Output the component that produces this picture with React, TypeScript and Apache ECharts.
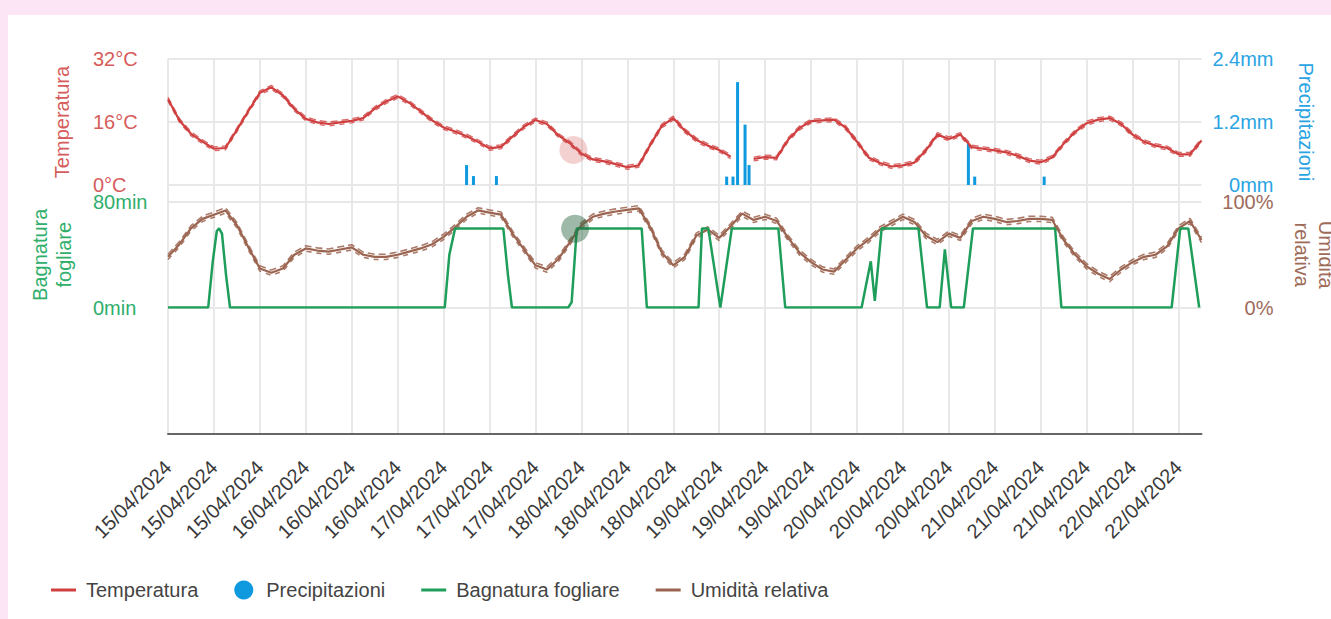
import { useEffect, useRef } from 'react';
import * as echarts from 'echarts';

// hours between two consecutive readings of temperature / humidity
const STEP_HOURS = 2;

// x-axis tick labels, one every 8 hours starting 15/04/2024 00:00
const tickLabels = [
  '15/04/2024', '15/04/2024', '15/04/2024',
  '16/04/2024', '16/04/2024', '16/04/2024',
  '17/04/2024', '17/04/2024', '17/04/2024',
  '18/04/2024', '18/04/2024', '18/04/2024',
  '19/04/2024', '19/04/2024', '19/04/2024',
  '20/04/2024', '20/04/2024', '20/04/2024',
  '21/04/2024', '21/04/2024', '21/04/2024',
  '22/04/2024', '22/04/2024',
];

// °C, every 2 hours
const temperature: (number | null)[] = [
  21.8, 16.4, 13.0, 11.0, 9.2, 9.4, 14.0, 18.8, 23.4, 24.8,
  22.8, 19.3, 16.8, 15.9, 15.5, 15.9, 16.3, 17.0, 19.4, 21.2,
  22.5, 20.9, 18.7, 16.4, 14.6, 13.6, 12.4, 11.0, 9.3, 9.7,
  12.3, 14.8, 16.5, 15.5, 12.6, 10.6, 8.0, 6.5, 6.0, 5.3,
  4.5, 5.0, 10.2, 15.0, 17.0, 13.8, 11.5, 10.0, 8.9, 7.2,
  null, 6.6, 7.1, 6.9, 11.5, 14.5, 16.2, 16.4, 16.6, 14.6,
  11.0, 7.0, 5.6, 4.7, 5.0, 5.7, 8.8, 12.8, 11.7, 12.8,
  9.6, 9.2, 8.8, 8.3, 7.4, 6.2, 5.8, 7.0, 10.5, 13.5,
  15.7, 16.6, 17.0, 15.5, 12.8, 11.0, 10.0, 9.4, 7.8, 7.8, 11.3,
];

// %, every 2 hours
const humidity = [
  48, 60, 75, 84, 88, 92, 78, 57, 37, 33,
  37, 50, 56, 54, 53, 55, 57, 50, 48, 48,
  50, 53, 56, 60, 67, 76, 86, 92, 90, 88,
  70, 55, 40, 36, 46, 62, 78, 86, 89, 91,
  92.5, 94, 76, 52, 40, 48, 68, 74, 66, 77,
  89, 83, 86, 82, 66, 52, 43, 36, 34, 45,
  56, 64, 74, 80, 86, 81, 68, 62, 70, 66,
  82, 86, 84, 81, 82, 84, 84, 83, 64, 50,
  39, 32, 27, 36, 43, 48, 50, 58, 75, 82, 64,
];

// leaf wetness (minutes) at the given hours from the start
const leafHours = [
  0, 7.0, 7.8, 8.5, 8.9, 9.4, 10.1, 10.8,
  48.2, 49.0, 50.0, 58.4, 59.2, 59.9,
  69.7, 70.3, 70.8, 71.2, 82.5, 83.4,
  92.4, 93.0, 94.1, 96.2, 98.2, 106.3, 107.5,
  120.8, 122.4, 123.1, 124.3, 130.7, 132.2,
  134.4, 135.3, 136.4, 138.6, 140.2, 154.5, 155.6,
  174.8, 176.3, 177.7, 179.6,
];
const leafMinutes = [
  0, 0, 35, 58, 60, 56, 25, 0,
  0, 40, 60, 60, 25, 0,
  0, 4, 35, 60, 60, 0,
  0, 60, 60, 0, 60, 60, 0,
  0, 35, 5, 60, 60, 0,
  0, 44, 0, 0, 60, 60, 0,
  0, 60, 60, 0,
];

// precipitation (mm) at the given hours from the start
const precipHours = [52.0, 53.2, 57.2, 97.3, 98.4, 99.2, 100.5, 101.2, 139.4, 140.5, 152.6];
const precipMm = [0.38, 0.17, 0.17, 0.16, 0.16, 1.96, 1.15, 0.38, 0.78, 0.16, 0.16];

const RED = '#cf3f3f';
const RED_TXT = '#d65c5c';
const BLUE = '#0f9ae0';
const BLUE_TXT = '#2aa4e3';
const GREEN = '#1e9e5a';
const GREEN_TXT = '#2fae6c';
const BROWN = '#9b6450';
const BROWN_TXT = '#9e6b5a';
const GRID_LINE = '#e8e8e8';
const FONT = '"Liberation Sans", Arial, sans-serif';
const LINE_ICON = 'path://M0,0H25V3H0Z';

export default function App() {
  const ref = useRef<HTMLDivElement>(null);

  useEffect(() => {
    if (!ref.current) return;
    const chart = echarts.init(ref.current, null, { renderer: 'svg' });

    const tempData = temperature.map((v, i) => [i * STEP_HOURS, v]);
    const humData = humidity.map((v, i) => [i * STEP_HOURS, v]);
    const leafData = leafHours.map((h, i) => [h, leafMinutes[i]]);
    const precipData = precipHours.map((h, i) => [h, precipMm[i]]);

    const gridBase = { left: 160, right: 129.5, outerBoundsMode: 'none', containLabel: false };
    const hiddenX = (gridIndex: number) => ({
      gridIndex, type: 'value', min: 0, max: 180, show: false,
    });
    const hiddenY = (gridIndex: number, min: number, max: number) => ({
      gridIndex, type: 'value', min, max, show: false,
    });

    const option: any = {
      animation: false,
      textStyle: { fontFamily: FONT },
      grid: [
        { ...gridBase, top: 44, height: 375 },
        { ...gridBase, top: 44, height: 126 },
        { ...gridBase, top: 187, height: 105.5 },
      ],
      legend: {
        left: 38,
        top: 560,
        itemWidth: 25,
        itemHeight: 19,
        itemGap: 36,
        textStyle: { fontSize: 20, color: '#444', padding: [0, 0, 0, 5] },
        data: [
          { name: 'Temperatura', icon: LINE_ICON },
          { name: 'Precipitazioni', icon: 'circle' },
          { name: 'Bagnatura fogliare', icon: LINE_ICON },
          { name: 'Umidità relativa', icon: LINE_ICON },
        ],
      },
      xAxis: [
        {
          gridIndex: 0,
          type: 'value',
          min: 0,
          max: 180,
          interval: 8,
          axisLine: { show: true, lineStyle: { color: '#666', width: 2 } },
          axisTick: { show: false },
          splitLine: { show: true, showMaxLine: false, lineStyle: { color: GRID_LINE, width: 2 } },
          axisLabel: {
            rotate: 45,
            margin: 30,
            fontSize: 20,
            color: '#3a3a3a',
            showMaxLabel: false,
            formatter: (v: number) => (v % 8 === 0 ? tickLabels[Math.round(v / 8)] ?? '' : ''),
          },
        },
        hiddenX(1),
        hiddenX(2),
      ],
      yAxis: [
        {
          gridIndex: 1,
          type: 'value',
          position: 'left',
          min: 0,
          max: 32,
          interval: 16,
          axisLine: { show: false },
          axisTick: { show: false },
          splitLine: { show: true, lineStyle: { color: GRID_LINE, width: 2 } },
          axisLabel: {
            formatter: '{value}°C', align: 'left', margin: 75, fontSize: 20, lineHeight: 16, color: RED_TXT,
          },
          name: 'Temperatura',
          nameLocation: 'middle',
          nameGap: 96,
          nameTextStyle: { color: RED_TXT, fontSize: 20 },
        },
        {
          gridIndex: 1,
          type: 'value',
          position: 'right',
          min: 0,
          max: 2.4,
          interval: 1.2,
          axisLine: { show: false },
          axisTick: { show: false },
          splitLine: { show: false },
          axisLabel: {
            formatter: (v: number) => `${v}mm`,
            align: 'right', margin: 72, fontSize: 20, lineHeight: 16, color: BLUE_TXT,
          },
          name: 'Precipitazioni',
          nameLocation: 'middle',
          nameRotate: -90,
          nameGap: 94,
          nameTextStyle: { color: BLUE_TXT, fontSize: 20 },
        },
        hiddenY(1, -0.5, 31.5),
        hiddenY(1, 0.5, 32.5),
        {
          gridIndex: 2,
          type: 'value',
          position: 'left',
          min: 0,
          max: 80,
          interval: 80,
          axisLine: { show: false },
          axisTick: { show: false },
          splitLine: { show: true, lineStyle: { color: GRID_LINE, width: 2 } },
          axisLabel: {
            formatter: '{value}min', align: 'left', margin: 75, fontSize: 20, lineHeight: 16, color: GREEN_TXT,
          },
          name: 'Bagnatura\nfogliare',
          nameLocation: 'middle',
          nameGap: 92,
          nameTextStyle: { color: GREEN_TXT, fontSize: 20, lineHeight: 24 },
        },
        {
          gridIndex: 2,
          type: 'value',
          position: 'right',
          min: 0,
          max: 100,
          interval: 100,
          axisLine: { show: false },
          axisTick: { show: false },
          splitLine: { show: false },
          axisLabel: {
            formatter: '{value}%', align: 'right', margin: 72, fontSize: 20, lineHeight: 16, color: BROWN_TXT,
          },
          name: 'Umidità\nrelativa',
          nameLocation: 'middle',
          nameRotate: -90,
          nameGap: 88,
          nameTextStyle: { color: BROWN_TXT, fontSize: 20, lineHeight: 24 },
        },
        hiddenY(2, -2.5, 97.5),
        hiddenY(2, 2.5, 102.5),
        hiddenY(0, 0, 1),
      ],
      series: [
        {
          name: 'Umidità relativa',
          type: 'line',
          xAxisIndex: 2,
          yAxisIndex: 5,
          data: humData,
          showSymbol: false,
          symbol: 'none',
          color: BROWN,
          lineStyle: { color: BROWN, width: 2.2 },
        },
        {
          name: '_hum_a',
          type: 'line',
          xAxisIndex: 2,
          yAxisIndex: 6,
          data: humData,
          symbol: 'none',
          silent: true,
          lineStyle: { color: BROWN, width: 1.6, type: [7, 4], opacity: 0.85 },
        },
        {
          name: '_hum_b',
          type: 'line',
          xAxisIndex: 2,
          yAxisIndex: 7,
          data: humData,
          symbol: 'none',
          silent: true,
          lineStyle: { color: BROWN, width: 1.6, type: [5, 5], opacity: 0.85 },
        },
        {
          name: 'Bagnatura fogliare',
          type: 'line',
          xAxisIndex: 2,
          yAxisIndex: 4,
          data: leafData,
          showSymbol: false,
          symbol: 'none',
          color: GREEN,
          lineStyle: { color: GREEN, width: 2.5 },
          markPoint: {
            silent: true,
            symbol: 'circle',
            symbolSize: 28,
            label: { show: false },
            itemStyle: { color: 'rgba(40,100,60,0.45)' },
            data: [{ coord: [70.9, 59.8] }],
          },
        },
        {
          name: 'Temperatura',
          type: 'line',
          xAxisIndex: 1,
          yAxisIndex: 0,
          data: tempData,
          showSymbol: false,
          symbol: 'none',
          color: RED,
          lineStyle: { color: RED, width: 2.2 },
          markPoint: {
            silent: true,
            symbol: 'circle',
            symbolSize: 28,
            label: { show: false },
            itemStyle: { color: 'rgba(208,70,70,0.25)' },
            data: [{ coord: [70.6, 8.9] }],
          },
        },
        {
          name: '_temp_a',
          type: 'line',
          xAxisIndex: 1,
          yAxisIndex: 2,
          data: tempData,
          symbol: 'none',
          silent: true,
          lineStyle: { color: RED, width: 1.3, type: [7, 4], opacity: 0.8 },
        },
        {
          name: '_temp_b',
          type: 'line',
          xAxisIndex: 1,
          yAxisIndex: 3,
          data: tempData,
          symbol: 'none',
          silent: true,
          lineStyle: { color: RED, width: 1.3, type: [5, 5], opacity: 0.8 },
        },
        {
          name: 'Precipitazioni',
          type: 'bar',
          xAxisIndex: 1,
          yAxisIndex: 1,
          data: precipData,
          barWidth: 3,
          color: BLUE,
          itemStyle: { color: BLUE },
        },
      ],
    };

    chart.setOption(option);
    return () => chart.dispose();
  }, []);

  return (
    <div
      style={{
        position: 'fixed', left: 0, top: 0, width: '100vw', height: '100vh',
        background: '#fce6f6', overflow: 'hidden',
      }}
    >
      <div
        ref={ref}
        style={{ position: 'absolute', left: 8, top: 15, width: 1323, height: 604, background: '#fff' }}
      />
    </div>
  );
}
